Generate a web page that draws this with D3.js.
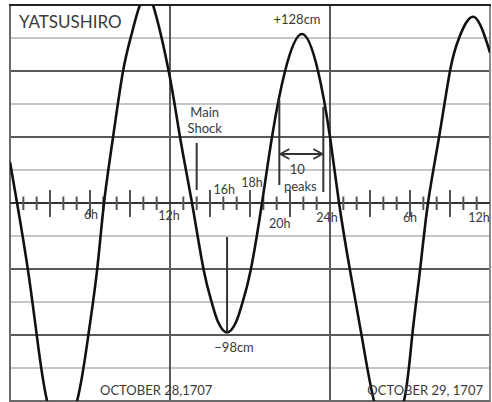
<!DOCTYPE html>
<meta charset="utf-8">
<style>
body {
  margin: 0px;
  background: white;
  font-family: Lato, "Open Sans", sans-serif;
}
text {
  fill: #3a3a3a;
}
.tick-label {
  font-size: 12.5px;
}
.note {
  font-size: 13px;
}
.date {
  font-size: 13px;
}
.station {
  font-size: 17px;
}
</style>
<body>
<script src="https://d3js.org/d3.v7.min.js"></script>
<script>
var width = 492,
    height = 402

// tide at Yatsushiro, hours from 0h Oct 28 1707, level in cm
var hours = [0, 0.53, 1.35, 2.03, 2.78, 3.85, 5.03, 5.85, 6.53, 7.05, 7.73, 8.48, 9.15, 9.75, 10.25,
             10.73, 11.9, 12.75, 13.65, 14.53, 15.15, 15.6, 16.28, 16.96, 17.42, 18.05, 18.9, 19.65, 20.63, 21.9,
             23.1, 24.0, 24.68, 25.5, 26.4, 27.3, 28.4, 29.55, 30.15, 30.75, 31.35, 32.18, 33.0,
             33.68, 34.8, 36]
var level = [31, 0, -51, -102, -150, -172, -150, -102, -51, 0, 50, 100, 129, 150, 156,
             150, 100, 50, 0, -51, -76, -90, -98, -90, -76, -51, 0, 50, 100, 128,
             100, 50, 0, -51, -102, -150, -172, -150, -102, -51, 0, 50, 100,
             125, 141, 114]

// hour axis labels
var labelHours = [6, 12, 16, 18, 20, 24, 30, 36]
var labelText = ["6h", "12h", "16h", "18h", "20h", "24h", "6h", "12h"]

// annotations
var mainShockHour = 14
var peakHour = 21.9, peakText = "+128cm"
var troughHour = 16.28, troughText = "\u221298cm"
var peaksSpan = [20.2, 23.5]
var dates = ["OCTOBER 28,1707", "OCTOBER 29, 1707"]

var x = d3.scaleLinear().domain([0, 36]).range([10, 490])
var y = d3.scaleLinear().domain([-150, 150]).range([401, 5])

var svg = d3.select("body").append("svg")
    .attr("width", width)
    .attr("height", height)

svg.append("defs").append("clipPath")
    .attr("id", "plot")
  .append("rect")
    .attr("x", x(0))
    .attr("y", y(150))
    .attr("width", x(36) - x(0))
    .attr("height", y(-150) - y(150))

// horizontal grid, every 25 cm, darker every 50
svg.append("g")
  .selectAll("line")
  .data(d3.range(-125, 150, 25).filter(function(d) { return d != 0 }))
  .enter().append("line")
    .attr("x1", x(0))
    .attr("x2", x(36))
    .attr("y1", function(d) { return y(d) })
    .attr("y2", function(d) { return y(d) })
    .attr("stroke", function(d) { return d % 50 == 0 ? "#595959" : "#c6c6c6" })
    .attr("stroke-width", 2)

// vertical lines at 12h and 24h, plus frame
svg.append("g")
  .selectAll("line")
  .data([12, 24])
  .enter().append("line")
    .attr("x1", function(d) { return x(d) })
    .attr("x2", function(d) { return x(d) })
    .attr("y1", y(150))
    .attr("y2", y(-150))
    .attr("stroke", "#5a5a5a")
    .attr("stroke-width", 2)

svg.append("line")
    .attr("x1", x(0)).attr("x2", x(0))
    .attr("y1", y(150)).attr("y2", y(-150) + 2)
    .attr("stroke", "#6a6a6a")
    .attr("stroke-width", 2)

svg.append("line")
    .attr("x1", x(36)).attr("x2", x(36))
    .attr("y1", y(150)).attr("y2", y(-150) + 2)
    .attr("stroke", "#8a8a8a")
    .attr("stroke-width", 2)

svg.append("line")
    .attr("x1", x(0) - 1).attr("x2", x(36) + 1)
    .attr("y1", y(150)).attr("y2", y(150))
    .attr("stroke", "#222")
    .attr("stroke-width", 2)

svg.append("line")
    .attr("x1", x(0)).attr("x2", x(36))
    .attr("y1", y(-150)).attr("y2", y(-150))
    .attr("stroke", "#6a6a6a")
    .attr("stroke-width", 2)

// time axis on the zero line
var axis = svg.append("g").attr("transform", "translate(0," + y(0) + ")")

axis.append("line")
    .attr("x1", x(0))
    .attr("x2", x(36))
    .attr("stroke", "#333")
    .attr("stroke-width", 2)

axis.selectAll(".tk")
    .data(d3.range(1, 36).filter(function(d) { return d % 12 != 0 }))
  .enter().append("line")
    .attr("class", "tk")
    .attr("x1", function(d) { return x(d) })
    .attr("x2", function(d) { return x(d) })
    .attr("y1", function(d) { return d % 3 == 0 ? -13 : -6.5 })
    .attr("y2", function(d) { return d % 3 == 0 ? 14 : 7 })
    .attr("stroke", "#555")
    .attr("stroke-width", 2)

// label offsets [dx, baseline from axis]
var labelPos = {6: [1, 16], 12: [-1, 17], 16: [1, -9], 18: [2, -16], 20: [3, 25], 24: [-3, 19], 30: [0, 19], 36: [-11, 19]}

axis.selectAll(".tick-label")
    .data(labelHours)
  .enter().append("text")
    .attr("class", "tick-label")
    .attr("text-anchor", "middle")
    .attr("x", function(d) { return x(d) + labelPos[d][0] })
    .attr("y", function(d) { return labelPos[d][1] })
    .text(function(d, i) { return labelText[i] })

// tide curve
var line = d3.line()
    .x(function(d) { return x(d[0]) })
    .y(function(d) { return y(d[1]) })
    .curve(d3.curveNatural)

svg.append("path")
    .datum(d3.zip(hours, level))
    .attr("clip-path", "url(#plot)")
    .attr("d", line)
    .attr("fill", "none")
    .attr("stroke", "#111")
    .attr("stroke-width", 2.6)

// station name
svg.append("text")
    .attr("class", "station")
    .attr("x", 19)
    .attr("y", 28)
    .text("YATSUSHIRO")

// main shock
svg.append("line")
    .attr("x1", x(mainShockHour)).attr("x2", x(mainShockHour))
    .attr("y1", 143).attr("y2", 190)
    .attr("stroke", "#333")
    .attr("stroke-width", 2)

svg.append("text")
    .attr("class", "note")
    .attr("text-anchor", "middle")
    .attr("x", x(mainShockHour) + 8)
    .attr("y", 117)
    .text("Main")

svg.append("text")
    .attr("class", "note")
    .attr("text-anchor", "middle")
    .attr("x", x(mainShockHour) + 8)
    .attr("y", 133)
    .text("Shock")

// high and low water marks
svg.append("text")
    .attr("class", "note")
    .attr("text-anchor", "middle")
    .attr("x", x(peakHour) - 5)
    .attr("y", 24)
    .text(peakText)

svg.append("line")
    .attr("x1", x(troughHour)).attr("x2", x(troughHour))
    .attr("y1", 237).attr("y2", y(-98))
    .attr("stroke", "#333")
    .attr("stroke-width", 2)

svg.append("text")
    .attr("class", "note")
    .attr("text-anchor", "middle")
    .attr("x", x(troughHour) + 7)
    .attr("y", 352)
    .text(troughText)

// 10 peaks span
svg.append("line")
    .attr("x1", x(peaksSpan[0])).attr("x2", x(peaksSpan[0]))
    .attr("y1", 100).attr("y2", 185)
    .attr("stroke", "#333")
    .attr("stroke-width", 2)

svg.append("line")
    .attr("x1", x(peaksSpan[1])).attr("x2", x(peaksSpan[1]))
    .attr("y1", 107).attr("y2", 192)
    .attr("stroke", "#333")
    .attr("stroke-width", 2)

var ay = 154, ax0 = x(peaksSpan[0]) + 1, ax1 = x(peaksSpan[1]) - 1
svg.append("path")
    .attr("d", "M" + ax0 + "," + ay + "H" + ax1 +
               "M" + (ax0 + 9) + "," + (ay - 5) + "L" + ax0 + "," + ay + "L" + (ax0 + 9) + "," + (ay + 5) +
               "M" + (ax1 - 9) + "," + (ay - 5) + "L" + ax1 + "," + ay + "L" + (ax1 - 9) + "," + (ay + 5))
    .attr("fill", "none")
    .attr("stroke", "#333")
    .attr("stroke-width", 1.8)

var mid = (x(peaksSpan[0]) + x(peaksSpan[1])) / 2
svg.append("text")
    .attr("class", "note")
    .attr("text-anchor", "middle")
    .attr("x", mid - 4)
    .attr("y", 174)
    .text("10")

svg.append("text")
    .attr("class", "note")
    .attr("text-anchor", "middle")
    .attr("x", mid - 1)
    .attr("y", 191)
    .text("peaks")

// dates
svg.append("text")
    .attr("class", "date")
    .attr("x", 100)
    .attr("y", 395)
    .text(dates[0])

svg.append("text")
    .attr("class", "date")
    .attr("text-anchor", "end")
    .attr("x", 483)
    .attr("y", 395)
    .text(dates[1])
</script>
